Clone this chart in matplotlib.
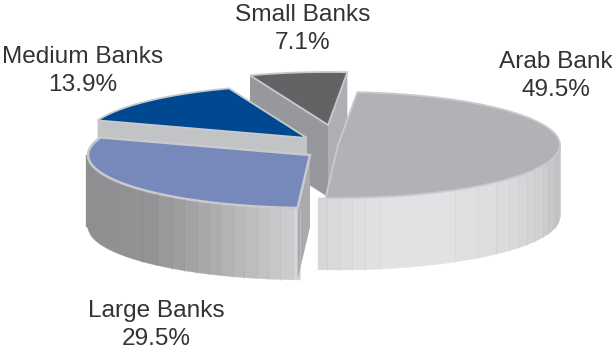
import matplotlib
matplotlib.use("Agg")
import matplotlib.pyplot as plt
import numpy as np

names = ["Arab Bank", "Large Banks", "Medium Banks", "Small Banks"]
shares = [49.5, 29.5, 13.9, 7.1]
top_colors = ["#b1b2b5", "#7788bb", "#00488f", "#636365"]

# layout in pixels: slice centres (exploded), ellipse radii, extrusion depth
centers = [(338, 145), (310, 155), (307, 138), (328, 125)]
RX, RY = 222, 53
DEPTH = 72
START = 85
RIM = "#c9cacd"

label_pos = [(556, 76), (156, 325), (83, 71), (303, 29)]

# vertical shading strips on the curved sides
arab_edges = [318, 327, 339, 352, 365, 380, 455, 478, 496, 509, 518, 527, 534, 543, 548, 555, 560]
arab_greys = [0.84, 0.85, 0.86, 0.87, 0.88, 0.885, 0.875, 0.87, 0.86, 0.85, 0.84, 0.83, 0.82, 0.80, 0.78, 0.76]
large_edges = [86, 100, 115, 130, 142, 157, 172, 184, 197, 209, 220, 233, 244, 257, 268, 280, 293, 300]
large_greys = [0.56, 0.565, 0.57, 0.575, 0.58, 0.60, 0.62, 0.64, 0.66, 0.68, 0.70, 0.72, 0.74, 0.76, 0.78, 0.80, 0.84]
SEAM_FROM = 142  # left of this the large slice shades smoothly


def arc(center, t1, t2, n=120):
    t = np.radians(np.linspace(t1, t2, n))
    return center[0] + RX * np.cos(t), center[1] - RY * np.sin(t)


def point(center, t):
    x, y = arc(center, t, t, 1)
    return x[0], y[0]


def cut_face(ax, center, t, color):
    # flat face left by pulling a slice out of the pie
    x, y = point(center, t)
    cx, cy = center
    ax.fill([cx, x, x, cx], [cy, y, y + DEPTH, cy + DEPTH], color=color, lw=0)


def curved_side(ax, center, edges, greys):
    for x0, x1, g in zip(edges[:-1], edges[1:], greys):
        xs = np.linspace(x0, x1, 12)
        ratio = np.clip((xs - center[0]) / RX, -1, 1)
        ys = center[1] + RY * np.sqrt(1 - ratio ** 2)
        ax.fill(np.r_[xs, xs[::-1]], np.r_[ys, ys[::-1] + DEPTH],
                color=(g, g, g + 0.012), lw=0.2)
        if x1 >= SEAM_FROM:
            ax.plot([x1, x1], [ys[-1], ys[-1] + DEPTH],
                    color=(g - 0.04, g - 0.04, g - 0.03), lw=0.4)


def top_face(ax, center, t1, t2, color, rim=1.3):
    x, y = arc(center, t1, t2)
    ax.fill(np.r_[center[0], x], np.r_[center[1], y], facecolor=color,
            edgecolor=RIM, lw=rim, joinstyle="miter")


angles = [START]
for s in shares:
    angles.append(angles[-1] - s / sum(shares) * 360)

fig = plt.figure(figsize=(6.12, 3.5), dpi=100)
ax = fig.add_axes([0, 0, 1, 1])
ax.set_xlim(0, 612)
ax.set_ylim(350, 0)
ax.axis("off")

# back to front: small, medium, large, arab
cut_face(ax, centers[3], angles[3], "#97989b")
cut_face(ax, centers[3], angles[4], "#aeafb2")
top_face(ax, centers[3], angles[3], angles[4], top_colors[3])

cut_face(ax, centers[2], angles[2], "#c2c3c5")
top_face(ax, centers[2], angles[2], angles[3], top_colors[2])

curved_side(ax, centers[1], large_edges, large_greys)
cut_face(ax, centers[1], angles[1], "#a9aaad")
top_face(ax, centers[1], angles[1], angles[2], top_colors[1], rim=1.8)

curved_side(ax, centers[0], arab_edges, arab_greys)
top_face(ax, centers[0], angles[0], angles[1], top_colors[0])

for name, share, (lx, ly) in zip(names, shares, label_pos):
    ax.text(lx, ly, f"{name}\n{share}%", ha="center", va="center", fontsize=17.6,
            family="Liberation Sans", color="#333333", linespacing=1.3)

fig.savefig("out.png", dpi=100)
